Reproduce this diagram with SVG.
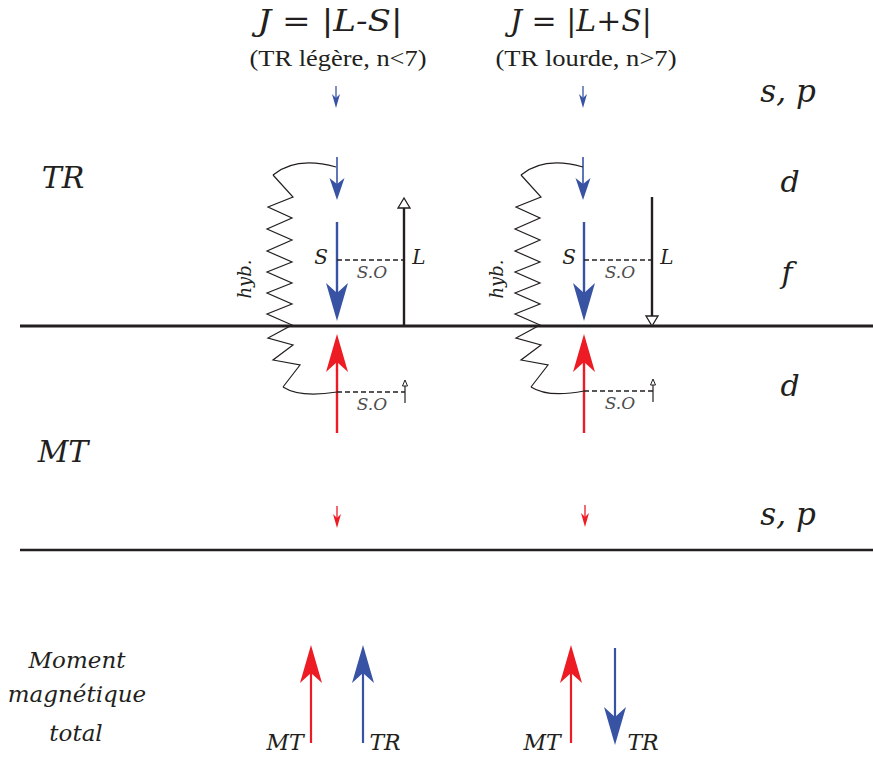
<svg xmlns="http://www.w3.org/2000/svg" width="873" height="758" viewBox="0 0 873 758">
<style>
text{font-family:"Liberation Serif","Times New Roman",serif}
.it{font-family:"DejaVu Serif",serif;font-style:italic;fill:#231f20}
.rm{fill:#231f20}
.blue{fill:#3953a4;stroke:none}
.red{fill:#ed1c24;stroke:none}
.bl{stroke:#3953a4;fill:none}
.rl{stroke:#ed1c24;fill:none}
.zz{stroke:#231f20;stroke-width:1.2;fill:none;stroke-linejoin:miter}
.dash{stroke:#231f20;stroke-width:1.5;stroke-dasharray:5 3;fill:none}
.so{font-family:"DejaVu Serif",serif;font-style:italic;font-size:17px;fill:#4d4d4f}
</style>
<rect width="873" height="758" fill="#fff"/>
<g id="levels">
<line x1="20" y1="326" x2="873" y2="326" stroke="#231f20" stroke-width="3"/>
<line x1="20" y1="550" x2="873" y2="550" stroke="#231f20" stroke-width="2.5"/>
<text class="it" x="63" y="188" font-size="30" text-anchor="middle">TR</text>
<text class="it" x="63" y="462" font-size="30" text-anchor="middle">MT</text>
<text class="it" x="788" y="102" font-size="31" text-anchor="middle">s, p</text>
<text class="it" x="790" y="192" font-size="30" text-anchor="middle">d</text>
<text class="it" x="787" y="283" font-size="30" text-anchor="middle">f</text>
<text class="it" x="790" y="396" font-size="30" text-anchor="middle">d</text>
<text class="it" x="788" y="525" font-size="31" text-anchor="middle">s, p</text>
</g>
<g id="left-column">
<text class="it" x="330" y="31" font-size="29" textLength="145" lengthAdjust="spacingAndGlyphs" text-anchor="middle">J = <tspan font-style="normal">|</tspan>L-S<tspan font-style="normal">|</tspan></text>
<text class="rm" x="338" y="66" font-size="24" textLength="177" lengthAdjust="spacingAndGlyphs" text-anchor="middle">(TR légère, n&lt;7)</text>
<line class="bl" x1="336" y1="86" x2="336" y2="100" stroke-width="1.3"/>
<path class="blue" d="M336 108 L332 94 L336 98 L340 94 Z"/>
<line class="bl" x1="337" y1="157" x2="337" y2="190" stroke-width="1.6"/>
<path class="blue" d="M337 200 L329.5 178 L337 184 L344.5 178 Z"/>
<line class="bl" x1="337" y1="222" x2="337" y2="300" stroke-width="2.4"/>
<path class="blue" d="M337 321 L326 283 L337 293 L348 283 Z"/>
<line class="rl" x1="337" y1="433" x2="337" y2="360" stroke-width="2.4"/>
<path class="red" d="M337 334 L326 372 L337 362 L348 372 Z"/>
<line class="rl" x1="337" y1="506" x2="337" y2="520" stroke-width="1.3"/>
<path class="red" d="M337 528 L333 514 L337 518 L341 514 Z"/>
<path class="zz" d="M273 175 Q296 156 336 167"/>
<polyline class="zz" points="273,175 293,197 268,207 292,218 267,229 292,240 267,251 292,262 267,272 292,283 267,293 292,304 267,314 292,325 268,338 293,345 273,360 300,365 283,387"/>
<path class="zz" d="M283 387 Q300 398 337 392"/>
<text class="it" font-size="18" transform="translate(251,279) rotate(-90)" text-anchor="middle">hyb.</text>
<line x1="404" y1="325" x2="404" y2="207" stroke="#231f20" stroke-width="2.4"/>
<path d="M404 198 L398 208 L410 208 Z" fill="#fff" stroke="#231f20" stroke-width="1.3"/>
<line class="dash" x1="337" y1="260" x2="404" y2="260"/>
<text class="it" x="321" y="264" font-size="20" text-anchor="middle">S</text>
<text class="it" x="419" y="264" font-size="20" text-anchor="middle">L</text>
<text class="so" x="372" y="278" text-anchor="middle">S.O</text>
<line class="dash" x1="337" y1="392" x2="405" y2="392"/>
<line x1="405" y1="403" x2="405" y2="385" stroke="#231f20" stroke-width="1.2"/>
<path d="M405 380 L402.5 386 L407.5 386 Z" fill="#fff" stroke="#231f20" stroke-width="1"/>
<text class="so" x="372" y="410" text-anchor="middle">S.O</text>
</g>
<g id="right-column">
<text class="it" x="581" y="31" font-size="29" textLength="142" lengthAdjust="spacingAndGlyphs" text-anchor="middle">J = <tspan font-style="normal">|</tspan>L+S<tspan font-style="normal">|</tspan></text>
<text class="rm" x="586" y="66" font-size="24" textLength="181" lengthAdjust="spacingAndGlyphs" text-anchor="middle">(TR lourde, n&gt;7)</text>
<line class="bl" x1="583" y1="86" x2="583" y2="100" stroke-width="1.3"/>
<path class="blue" d="M583 108 L579 94 L583 98 L587 94 Z"/>
<line class="bl" x1="583" y1="157" x2="583" y2="190" stroke-width="1.6"/>
<path class="blue" d="M583 200 L575.5 178 L583 184 L590.5 178 Z"/>
<line class="bl" x1="584" y1="222" x2="584" y2="300" stroke-width="2.4"/>
<path class="blue" d="M584 321 L573 283 L584 293 L595 283 Z"/>
<line class="rl" x1="584" y1="433" x2="584" y2="360" stroke-width="2.4"/>
<path class="red" d="M584 334 L573 372 L584 362 L595 372 Z"/>
<line class="rl" x1="585" y1="505" x2="585" y2="519" stroke-width="1.3"/>
<path class="red" d="M585 527 L581 513 L585 517 L589 513 Z"/>
<path class="zz" d="M521 175 Q544 156 583 167"/>
<polyline class="zz" points="521,175 541,197 516,207 540,218 515,229 540,240 515,251 540,262 515,272 540,283 515,293 540,304 515,314 540,325 516,338 541,345 521,360 548,365 531,387"/>
<path class="zz" d="M531 387 Q548 398 584 391"/>
<text class="it" font-size="18" transform="translate(503,279) rotate(-90)" text-anchor="middle">hyb.</text>
<line x1="652" y1="197" x2="652" y2="316" stroke="#231f20" stroke-width="2.4"/>
<path d="M652 326 L646 316 L658 316 Z" fill="#fff" stroke="#231f20" stroke-width="1.3"/>
<line class="dash" x1="584" y1="260" x2="652" y2="260"/>
<text class="it" x="569" y="264" font-size="20" text-anchor="middle">S</text>
<text class="it" x="667" y="264" font-size="20" text-anchor="middle">L</text>
<text class="so" x="620" y="278" text-anchor="middle">S.O</text>
<line class="dash" x1="584" y1="391" x2="653" y2="391"/>
<line x1="653" y1="402" x2="653" y2="384" stroke="#231f20" stroke-width="1.2"/>
<path d="M653 379 L650.5 385 L655.5 385 Z" fill="#fff" stroke="#231f20" stroke-width="1"/>
<text class="so" x="620" y="409" text-anchor="middle">S.O</text>
</g>
<g id="total-moment">
<text class="it" x="77" y="668" font-size="23" text-anchor="middle">Moment</text>
<text class="it" x="77" y="702" font-size="23" text-anchor="middle">magnétique</text>
<text class="it" x="76" y="741" font-size="23" text-anchor="middle">total</text>
<line class="rl" x1="311" y1="743" x2="311" y2="672" stroke-width="2.2"/>
<path class="red" d="M311 645 L300 683 L311 673 L322 683 Z"/>
<line class="bl" x1="363" y1="743" x2="363" y2="672" stroke-width="2.2"/>
<path class="blue" d="M363 645 L352 683 L363 673 L374 683 Z"/>
<text class="it" x="285" y="750" font-size="22" text-anchor="middle">MT</text>
<text class="it" x="385" y="750" font-size="22" text-anchor="middle">TR</text>
<line class="rl" x1="571" y1="743" x2="571" y2="672" stroke-width="2.2"/>
<path class="red" d="M571 645 L560 683 L571 673 L582 683 Z"/>
<line class="bl" x1="615" y1="648" x2="615" y2="720" stroke-width="2.2"/>
<path class="blue" d="M615 745 L604 707 L615 717 L626 707 Z"/>
<text class="it" x="542" y="750" font-size="22" text-anchor="middle">MT</text>
<text class="it" x="643" y="750" font-size="22" text-anchor="middle">TR</text>
</g>
</svg>
